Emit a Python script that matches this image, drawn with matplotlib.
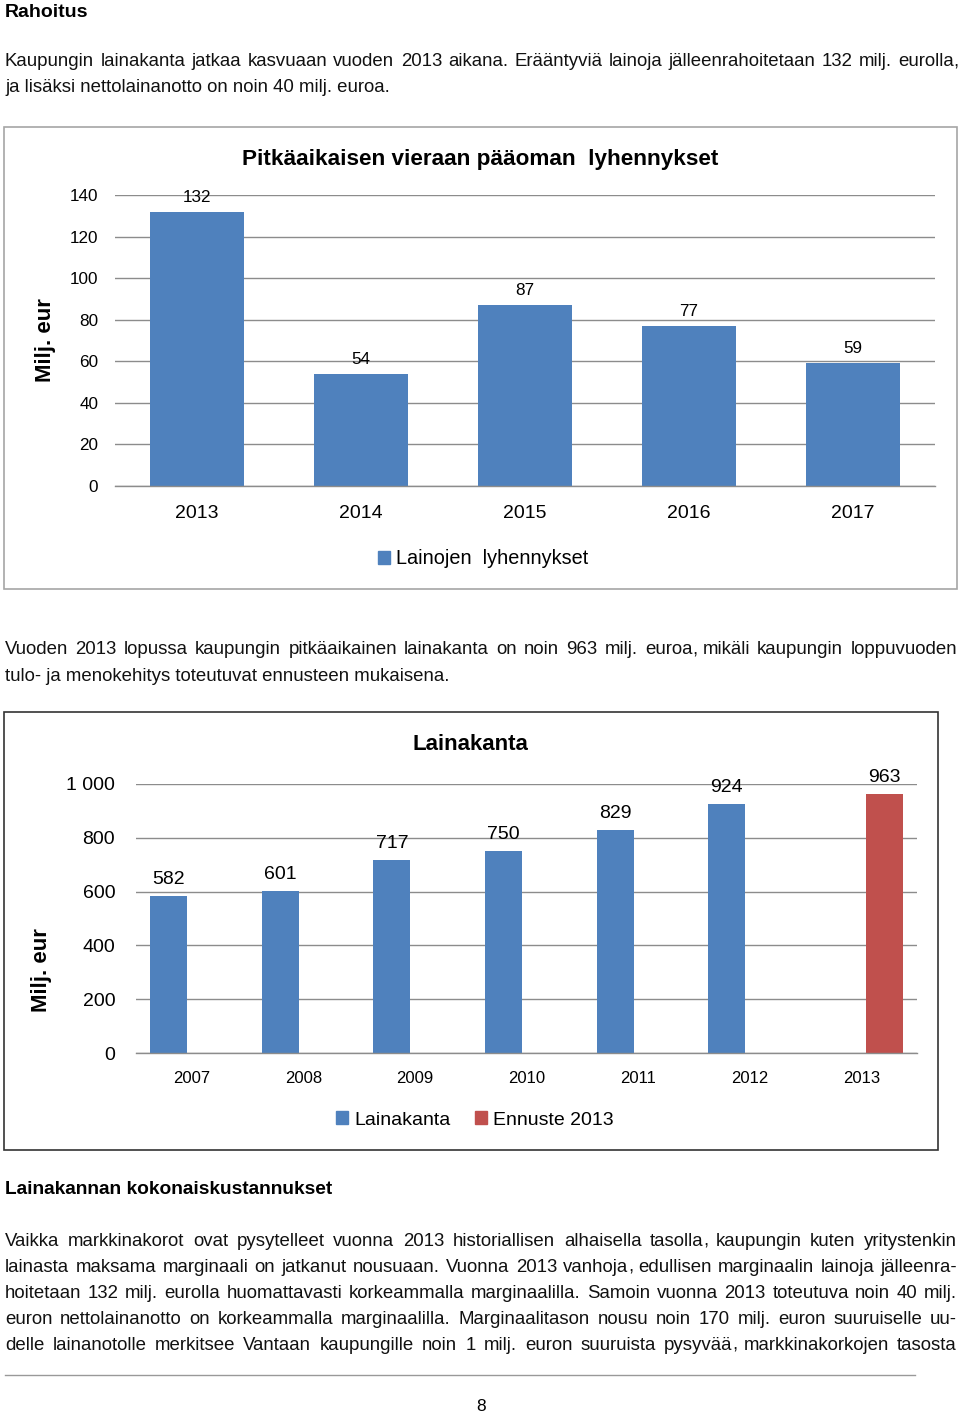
import matplotlib
matplotlib.use("Agg")
import matplotlib.pyplot as plt
from matplotlib.patches import Rectangle, Patch
import numpy as np

plt.rcParams['font.family'] = ['Liberation Sans', 'DejaVu Sans']

# chart 1: amortisations
years1 = ['2013', '2014', '2015', '2016', '2017']
lyhennykset = [132, 54, 87, 77, 59]

# chart 2: loan stock
years2 = ['2007', '2008', '2009', '2010', '2011', '2012', '2013']
lainakanta = [582, 601, 717, 750, 829, 924, None]
ennuste = [None, None, None, None, None, None, 963]

BLUE = '#4F81BD'
RED = '#C0504D'
GRID = '#8C8C8C'

W, H = 960, 1413
fig = plt.figure(figsize=(W / 100, H / 100), dpi=100)
renderer = fig.canvas.get_renderer()


def fx(px):
    return px / W


def fy(py):
    return 1 - py / H


def axes_px(left, top, right, bottom):
    return fig.add_axes([fx(left), fy(bottom), (right - left) / W, (bottom - top) / H])


def width_of(s, **kw):
    t = fig.text(0, 0, s, **kw)
    w = t.get_window_extent(renderer).width
    t.remove()
    return w


def justify(words, x0, x1, y, **kw):
    # place words on one baseline so that the line fills x0..x1
    # a trailing comma is drawn as its own piece, right after its word
    parts = []
    for w in words:
        if w.endswith(',') and len(w) > 1:
            parts.append((w[:-1], ','))
        else:
            parts.append((w, ''))
    widths = []
    for body, tail in parts:
        wb = width_of(body, **kw)
        widths.append(wb + (3 if tail else 0))
    gap = (x1 - x0 - sum(widths)) / (len(words) - 1)
    x = x0
    for (body, tail), wd in zip(parts, widths):
        fig.text(fx(x), fy(y), body, va='baseline', ha='left', **kw)
        if tail:
            fig.text(fx(x + wd - 3.5), fy(y), tail, va='baseline', ha='left', **kw)
        x += wd + gap


def left_line(s, x, y, **kw):
    fig.text(fx(x), fy(y), s, va='baseline', ha='left', **kw)


# ---- page text (y = baseline in px) ----
body = dict(fontsize=13.4, color='#111111')
left_line('Rahoitus', 5, 17, fontsize=14, fontweight='bold')
justify('Kaupungin lainakanta jatkaa kasvuaan vuoden 2013 aikana. Erääntyviä lainoja jälleenrahoitetaan 132 milj. eurolla,'.split(),
        5, 957, 66.5, **body)
left_line('ja lisäksi nettolainanotto on noin 40 milj. euroa.', 5, 92.5, **body)

justify('Vuoden 2013 lopussa kaupungin pitkäaikainen lainakanta on noin 963 milj. euroa, mikäli kaupungin loppuvuoden'.split(),
        5, 957, 654.5, **body)
left_line('tulo- ja menokehitys toteutuvat ennusteen mukaisena.', 5, 680.5, **body)

left_line('Lainakannan kokonaiskustannukset', 5, 1194, fontsize=13.8, fontweight='bold')
para = [
    'Vaikka markkinakorot ovat pysytelleet vuonna 2013 historiallisen alhaisella tasolla, kaupungin kuten yritystenkin',
    'lainasta maksama marginaali on jatkanut nousuaan. Vuonna 2013 vanhoja, edullisen marginaalin lainoja jälleenra-',
    'hoitetaan 132 milj. eurolla huomattavasti korkeammalla marginaalilla. Samoin vuonna 2013 toteutuva noin 40 milj.',
    'euron nettolainanotto on korkeammalla marginaalilla. Marginaalitason nousu noin 170 milj. euron suuruiselle uu-',
    'delle lainanotolle merkitsee Vantaan kaupungille noin 1 milj. euron suuruista pysyvää, markkinakorkojen tasosta',
]
for i, line in enumerate(para):
    justify(line.split(), 5, 957, 1246 + 26 * i, **body)

fig.add_artist(plt.Line2D([fx(5), fx(915)], [fy(1375), fy(1375)], color='#999999', lw=1))
fig.text(fx(481), fy(1411), '8', ha='center', va='baseline', fontsize=12.5)

# ---- chart borders ----
fig.add_artist(Rectangle((fx(4), fy(589)), (957 - 4) / W, (589 - 127) / H,
                         transform=fig.transFigure, fill=False, ec='#A6A6A6', lw=1.2))
fig.add_artist(Rectangle((fx(4), fy(1150)), (938 - 4) / W, (1150 - 712) / H,
                         transform=fig.transFigure, fill=False, ec='#333333', lw=1.2))

# ---- chart 1 ----
ax1 = axes_px(115, 195, 935, 486)
x1 = np.arange(len(years1))
ax1.bar(x1, lyhennykset, width=0.57, color=BLUE, zorder=3)
for xi, v in zip(x1, lyhennykset):
    ax1.annotate(str(v), (xi, v), xytext=(0, 5), textcoords='offset points',
                 ha='center', va='bottom', fontsize=12.3, annotation_clip=False)
ax1.set_xlim(-0.5, len(years1) - 0.5)
ax1.set_ylim(0, 140)
ax1.set_yticks(range(0, 141, 20))
ax1.set_xticks(x1, years1)
ax1.yaxis.grid(True, color=GRID, lw=1, zorder=0)
ax1.axhline(0, color=GRID, lw=1, zorder=4, clip_on=False)
for s in ax1.spines.values():
    s.set_visible(False)
ax1.tick_params(axis='y', length=0, pad=12, labelsize=12.3)
ax1.tick_params(axis='x', length=0, pad=14, labelsize=14)
fig.text(fx(480), fy(159), 'Pitkäaikaisen vieraan pääoman  lyhennykset', ha='center', va='center',
         fontsize=16.2, fontweight='bold')
fig.text(fx(45), fy(340), 'Milj. eur', rotation=90, ha='center', va='center',
         fontsize=16, fontweight='bold')
fig.legend(handles=[Patch(color=BLUE, label='Lainojen  lyhennykset')], loc='center',
           bbox_to_anchor=(fx(483), fy(559)), frameon=False, fontsize=14.3,
           handlelength=0.6, handleheight=0.6, handletextpad=0.3)

# ---- chart 2 ----
ax2 = axes_px(136, 784, 917, 1053)
x2 = np.arange(len(years2))
off = 23 / 111.5
bw = 37 / 111.5
lk = [np.nan if v is None else v for v in lainakanta]
en = [np.nan if v is None else v for v in ennuste]
ax2.bar(x2 - off, lk, width=bw, color=BLUE, zorder=3)
ax2.bar(x2 + off, en, width=bw, color=RED, zorder=3)
for xi, v in zip(x2, lainakanta):
    if v is not None:
        ax2.annotate(str(v), (xi - off, v), xytext=(0, 6), textcoords='offset points',
                     ha='center', va='bottom', fontsize=14, annotation_clip=False)
for xi, v in zip(x2, ennuste):
    if v is not None:
        ax2.annotate(str(v), (xi + off, v), xytext=(0, 6), textcoords='offset points',
                     ha='center', va='bottom', fontsize=14, annotation_clip=False)
ax2.set_xlim(-0.5, len(years2) - 0.5)
ax2.set_ylim(0, 1000)
ax2.set_yticks(range(0, 1001, 200), ['0', '200', '400', '600', '800', '1 000'])
ax2.set_xticks(x2, years2)
ax2.yaxis.grid(True, color=GRID, lw=1, zorder=0)
ax2.axhline(0, color=GRID, lw=1, zorder=4, clip_on=False)
for s in ax2.spines.values():
    s.set_visible(False)
ax2.tick_params(axis='y', length=0, pad=15, labelsize=14)
ax2.tick_params(axis='x', length=0, pad=13, labelsize=12)
fig.text(fx(470), fy(745), 'Lainakanta', ha='center', va='center',
         fontsize=16, fontweight='bold')
fig.text(fx(41), fy(970), 'Milj. eur', rotation=90, ha='center', va='center',
         fontsize=16, fontweight='bold')
fig.legend(handles=[Patch(color=BLUE, label='Lainakanta'), Patch(color=RED, label='Ennuste 2013')],
           loc='center', ncol=2, bbox_to_anchor=(fx(475), fy(1120)), frameon=False, fontsize=14,
           handlelength=0.6, handleheight=0.6, handletextpad=0.3, columnspacing=1.3)

fig.savefig('out.png', dpi=100)
